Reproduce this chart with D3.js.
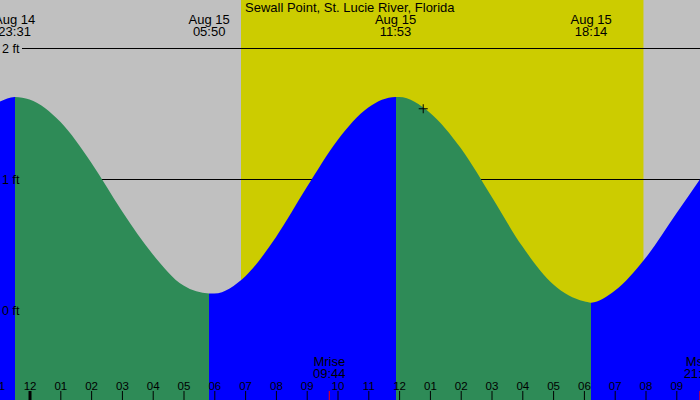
<!DOCTYPE html>
<html>
<head>
<meta charset="utf-8">
<script src="https://cdn.jsdelivr.net/npm/d3@7"></script>
<style>
  body { margin: 0; background: #c0c0c0; }
  svg { display: block; font-family: "Liberation Sans", Arial, sans-serif; }
</style>
</head>
<body>
<div id="chart"></div>
<script>
// tide curve (feet), hourly plus the turning points
var tideTimes = [
  "2024-08-14 23:00", "2024-08-14 23:31", "2024-08-15 00:00", "2024-08-15 01:00",
  "2024-08-15 02:00", "2024-08-15 03:00", "2024-08-15 04:00", "2024-08-15 05:00",
  "2024-08-15 05:50", "2024-08-15 06:00", "2024-08-15 07:00", "2024-08-15 08:00",
  "2024-08-15 09:00", "2024-08-15 10:00", "2024-08-15 11:00", "2024-08-15 11:53",
  "2024-08-15 12:00", "2024-08-15 13:00", "2024-08-15 14:00", "2024-08-15 15:00",
  "2024-08-15 16:00", "2024-08-15 17:00", "2024-08-15 18:00", "2024-08-15 18:14",
  "2024-08-15 19:00", "2024-08-15 20:00", "2024-08-15 21:00", "2024-08-15 22:00"
];
var tideFeet = [
  1.59, 1.63, 1.61, 1.44,
  1.13, 0.76, 0.43, 0.19,
  0.13, 0.13, 0.26, 0.56,
  0.94, 1.30, 1.55, 1.63,
  1.63, 1.51, 1.24, 0.87,
  0.49, 0.20, 0.07, 0.06,
  0.15, 0.40, 0.74, 1.08
];

// high / low water
var extremeTimes = ["2024-08-14 23:31", "2024-08-15 05:50", "2024-08-15 11:53", "2024-08-15 18:14"];
var extremeKinds = ["high", "low", "high", "low"];

var sunTimes = ["2024-08-15 06:52", "2024-08-15 19:56"];   // rise, set
var moonTimes = ["2024-08-15 09:44", "2024-08-15 21:46"];
var moonNames = ["Mrise", "Mset"];

var nowTime = "2024-08-15 12:47";
var nowFeet = 1.54;

var footTicks = [0, 1, 2];
var firstHour = "2024-08-14 23:00";
var title = "Sewall Point, St. Lucie River, Florida";
var viewStart = "2024-08-14 23:02:30";
var viewEnd = "2024-08-15 21:46:10";

var parse = d3.timeParse("%Y-%m-%d %H:%M");
var parseS = d3.timeParse("%Y-%m-%d %H:%M:%S");

var W = 700, H = 400;
var svg = d3.select("#chart").append("svg").attr("width", W).attr("height", H);

var x = d3.scaleTime().domain([parseS(viewStart), parseS(viewEnd)]).range([0, W]);
var y = d3.scaleLinear().domain([0, 2]).range([310.5, 48.5]);

var tide = tideTimes.map(function(t, i) { return { date: parse(t), ft: tideFeet[i] }; });

// night background + daylight
svg.append("rect").attr("width", W).attr("height", H).attr("fill", "#c0c0c0");
svg.append("rect")
  .attr("x", x(parse(sunTimes[0])))
  .attr("width", x(parse(sunTimes[1])) - x(parse(sunTimes[0])))
  .attr("y", 0).attr("height", H)
  .attr("fill", "#cccc00");

// foot lines (under the water)
svg.selectAll(".fline").data(footTicks).enter().append("line")
  .attr("x1", 22).attr("x2", W)
  .attr("y1", function(d) { return y(d); })
  .attr("y2", function(d) { return y(d); })
  .attr("stroke", "black").attr("stroke-width", 1);

// water, split in falling (green) and rising (blue) parts
var area = d3.area()
  .x(function(d) { return x(d.date); })
  .y0(H)
  .y1(function(d) { return y(d.ft); })
  .curve(d3.curveMonotoneX);

var cuts = [x.domain()[0]].concat(extremeTimes.map(parse)).concat([x.domain()[1]]);
for (i = 0; i < cuts.length - 1; i++) {
  // part before first turn rises toward the high
  var kind = i == 0 ? "low" : extremeKinds[i - 1];
  var color = kind == "high" ? "#2e8b57" : "#0000ff";
  var x0 = Math.round(x(cuts[i])), x1 = Math.round(x(cuts[i + 1]));
  svg.append("clipPath").attr("id", "seg" + i)
    .append("rect").attr("x", x0).attr("y", 0).attr("width", x1 - x0).attr("height", H);
  svg.append("path")
    .datum(tide)
    .attr("d", area)
    .attr("fill", color)
    .attr("clip-path", "url(#seg" + i + ")");
}

// foot labels
svg.selectAll(".flabel").data(footTicks).enter().append("text")
  .attr("x", 2)
  .attr("y", function(d) { return y(d); })
  .attr("dy", "0.35em")
  .attr("font-size", 12.5)
  .text(function(d) { return d + " ft"; });

// title
svg.append("text").attr("x", 245).attr("y", 12).attr("font-size", 13).text(title);

// turning point labels
var fmtDay = d3.timeFormat("%b %d"), fmtHM = d3.timeFormat("%H:%M");
extremeTimes.forEach(function(t) {
  var d = parse(t);
  var lab = svg.append("text").attr("text-anchor", "middle").attr("font-size", 13);
  lab.append("tspan").attr("x", x(d)).attr("y", 24).text(fmtDay(d));
  lab.append("tspan").attr("x", x(d)).attr("y", 36).text(fmtHM(d));
});

// hour axis along the bottom (starts one hour left of the view, label half shows)
var axis = d3.axisTop(x)
  .tickValues(d3.timeHour.range(parse(firstHour), x.domain()[1]))
  .tickFormat(d3.timeFormat("%I"))
  .tickSizeInner(9).tickSizeOuter(0).tickPadding(1);
var ax = svg.append("g").attr("transform", "translate(0," + H + ")").call(axis);
ax.select(".domain").remove();
ax.attr("font-family", null).attr("font-size", 11.5);
ax.selectAll(".tick line")
  .attr("stroke", "black")
  .attr("stroke-width", function(d) { return d.getHours() == 0 ? 3 : 1; });
ax.selectAll(".tick text").attr("fill", "black");

// moon rise / set
moonTimes.forEach(function(t, i) {
  var d = parse(t);
  svg.append("line")
    .attr("x1", x(d)).attr("x2", x(d)).attr("y1", H - 9).attr("y2", H)
    .attr("stroke", "red");
  var lab = svg.append("text").attr("text-anchor", "middle").attr("font-size", 13);
  lab.append("tspan").attr("x", x(d)).attr("y", 366).text(moonNames[i]);
  lab.append("tspan").attr("x", x(d)).attr("y", 378).text(fmtHM(d));
});

// current time marker
var nx = x(parse(nowTime)), ny = y(nowFeet);
svg.append("path")
  .attr("d", "M" + (nx - 4.5) + "," + ny + "H" + (nx + 4.5) + "M" + nx + "," + (ny - 4.5) + "V" + (ny + 4.5))
  .attr("stroke", "black").attr("fill", "none");
</script>
</body>
</html>
